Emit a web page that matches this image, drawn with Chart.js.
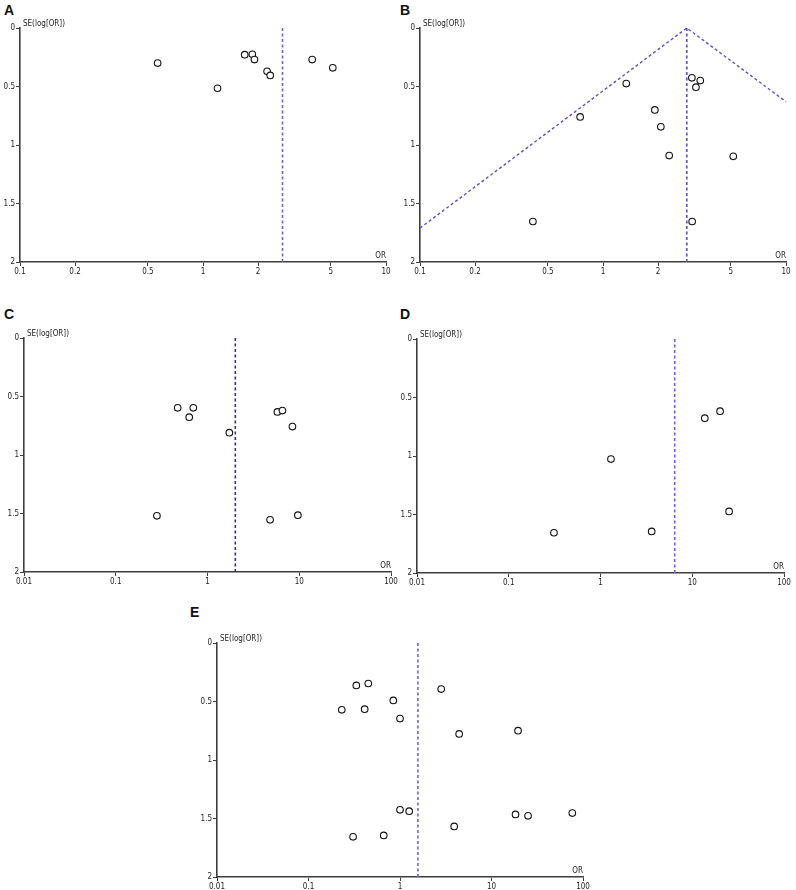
<!DOCTYPE html>
<html>
<head>
<meta charset="utf-8">
<script src="https://cdn.jsdelivr.net/npm/chart.js@4.4.1/dist/chart.umd.min.js"></script>
<style>
  html,body{margin:0;padding:0;background:#fff;}
  #wrap{position:relative;width:796px;height:890px;overflow:hidden;}
  .panel{position:absolute;}
  .tag{position:absolute;font:bold 14px "Liberation Sans",Arial,sans-serif;color:#111;}
</style>
</head>
<body>
<div id="wrap">
  <div class="tag" style="left:4px;top:2px">A</div>
  <div class="tag" style="left:400px;top:2px">B</div>
  <div class="tag" style="left:4px;top:306px">C</div>
  <div class="tag" style="left:400px;top:306px">D</div>
  <div class="tag" style="left:190px;top:604px">E</div>
  <div class="panel" style="left:0;top:0;width:400px;height:280px"><canvas id="chartA"></canvas></div>
  <div class="panel" style="left:400px;top:0;width:396px;height:280px"><canvas id="chartB"></canvas></div>
  <div class="panel" style="left:0;top:300px;width:400px;height:290px"><canvas id="chartC"></canvas></div>
  <div class="panel" style="left:400px;top:300px;width:396px;height:290px"><canvas id="chartD"></canvas></div>
  <div class="panel" style="left:190px;top:600px;width:420px;height:290px"><canvas id="chartE"></canvas></div>
</div>
<script>
// tick labels
const ticksNarrow = [0.1, 0.2, 0.5, 1, 2, 5, 10];
const ticksWide = [0.01, 0.1, 1, 10, 100];
const seTicks = [0, 0.5, 1, 1.5, 2];

// panel A
const aOR = [0.565, 1.2, 1.69, 1.86, 1.91, 2.24, 2.33, 3.95, 5.12];
const aSE = [0.30, 0.515, 0.228, 0.225, 0.27, 0.37, 0.405, 0.27, 0.34];
const aPooled = 2.72;

// panel B
const bOR = [1.34, 0.75, 1.92, 2.07, 2.30, 3.06, 3.40, 3.22, 5.15, 0.414, 3.07];
const bSE = [0.475, 0.76, 0.70, 0.845, 1.09, 0.426, 0.449, 0.506, 1.097, 1.654, 1.654];
const bPooled = 2.87;
const bFunnelOR = [0.1, 2.87, 10];
const bFunnelSE = [1.71, 0, 0.63];

// panel C
const cOR = [0.473, 0.70, 0.632, 1.73, 5.78, 6.56, 8.43, 0.281, 4.81, 9.66];
const cSE = [0.597, 0.597, 0.677, 0.809, 0.632, 0.620, 0.757, 1.52, 1.554, 1.514];
const cPooled = 2.01;

// panel D
const dOR = [0.311, 1.30, 3.61, 13.7, 20.1, 25.2];
const dSE = [1.656, 1.026, 1.645, 0.677, 0.617, 1.474];
const dPooled = 6.44;

// panel E
const eOR = [0.333, 0.45, 0.231, 0.411, 0.845, 1.0, 2.82, 4.43, 19.5, 1.0, 1.26, 0.307, 0.664, 3.91, 18.3, 25.1, 76.4];
const eSE = [0.363, 0.346, 0.571, 0.566, 0.491, 0.646, 0.394, 0.777, 0.749, 1.426, 1.437, 1.657, 1.645, 1.568, 1.465, 1.477, 1.454];
const ePooled = 1.57;

const axisColor = "#3d3d3d";
const tickFont = {family:"'DejaVu Sans Condensed','DejaVu Sans',sans-serif", size:8};

const axisTitles = {
  id:"axisTitles",
  afterDraw(chart){
    const {ctx, chartArea:a} = chart;
    ctx.save();
    ctx.fillStyle = "#222";
    ctx.font = "8px 'DejaVu Sans Condensed','DejaVu Sans',sans-serif";
    ctx.textBaseline = "alphabetic";
    ctx.textAlign = "left";
    ctx.fillText("SE(log[OR])", a.left + 3, a.top - 2);
    ctx.textAlign = "right";
    ctx.fillText("OR", a.right, a.bottom - 4);
    ctx.restore();
  }
};

function funnel(id, o){
  const pts = o.or.map((v,i) => ({x:v, y:o.se[i]}));
  const datasets = [{
    type:"scatter", data:pts, clip:false,
    pointRadius:3.3, pointBorderWidth:1.1, pointBorderColor:"#111", pointBackgroundColor:"#fff"
  },{
    type:"line", data:[{x:o.pooled,y:0},{x:o.pooled,y:2}], clip:false,
    borderColor:o.lineColor, borderWidth:1.6, borderDash:[3,2.5], pointRadius:0
  }];
  if(o.fOR){
    datasets.push({
      type:"line", data:o.fOR.map((v,i)=>({x:v,y:o.fSE[i]})), clip:false,
      borderColor:o.lineColor, borderWidth:1.4, borderDash:[3,2.5], pointRadius:0, tension:0
    });
  }
  return new Chart(document.getElementById(id), {
    type:"scatter",
    data:{datasets},
    options:{
      responsive:true, maintainAspectRatio:false, animation:false,
      layout:{padding:o.pad},
      plugins:{legend:{display:false}, tooltip:{enabled:false}},
      scales:{
        x:{
          type:"logarithmic", min:o.ticks[0], max:o.ticks[o.ticks.length-1],
          afterBuildTicks:s=>{ s.ticks = o.ticks.map(v=>({value:v})); },
          afterFit:s=>{ s.height = o.xh; },
          ticks:{autoSkip:false, maxRotation:0, color:"#222", font:tickFont, padding:1, callback:v=>String(v)},
          grid:{drawOnChartArea:false, drawTicks:true, tickLength:4, color:axisColor, lineWidth:1},
          border:{color:axisColor, width:1.6}
        },
        y:{
          type:"linear", reverse:true, min:0, max:2,
          afterBuildTicks:s=>{ s.ticks = seTicks.map(v=>({value:v})); },
          afterFit:s=>{ s.width = o.yw; },
          ticks:{color:"#222", font:tickFont, padding:1, callback:v=>String(v)},
          grid:{drawOnChartArea:false, drawTicks:true, tickLength:4, color:axisColor, lineWidth:1},
          border:{color:axisColor, width:1.6}
        }
      }
    },
    plugins:[axisTitles]
  });
}

funnel("chartA", {or:aOR, se:aSE, pooled:aPooled, ticks:ticksNarrow, lineColor:"#6a62e0",
  pad:{left:0, top:28, right:14, bottom:0}, yw:20, xh:18});
funnel("chartB", {or:bOR, se:bSE, pooled:bPooled, fOR:bFunnelOR, fSE:bFunnelSE, ticks:ticksNarrow, lineColor:"#5a52cc",
  pad:{left:0, top:28, right:10, bottom:0}, yw:20, xh:18});
funnel("chartC", {or:cOR, se:cSE, pooled:cPooled, ticks:ticksWide, lineColor:"#33337a",
  pad:{left:0, top:38, right:9, bottom:0}, yw:24, xh:18});
funnel("chartD", {or:dOR, se:dSE, pooled:dPooled, ticks:ticksWide, lineColor:"#6262f0",
  pad:{left:0, top:39, right:12, bottom:0}, yw:17, xh:17});
funnel("chartE", {or:eOR, se:eSE, pooled:ePooled, ticks:ticksWide, lineColor:"#6a62e0",
  pad:{left:0, top:43, right:27, bottom:0}, yw:27, xh:13});
</script>
</body>
</html>
